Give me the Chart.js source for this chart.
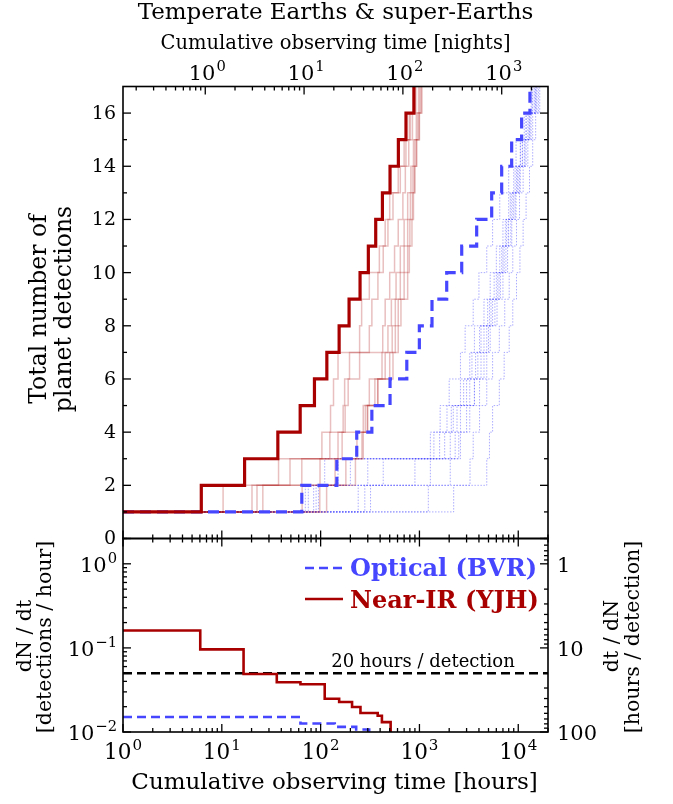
<!DOCTYPE html>
<html>
<head>
<meta charset="utf-8">
<script src="https://cdn.jsdelivr.net/npm/chart.js@4.4.0/dist/chart.umd.min.js"></script>
<style>
  html, body { margin: 0; padding: 0; background: #fff; }
  #wrap { position: relative; width: 673px; height: 804px; }
  #wrap canvas { position: absolute; left: 0; top: 0; }
</style>
</head>
<body>
<div id="wrap">
  <canvas id="counts" width="673" height="804"></canvas>
  <canvas id="rates" width="673" height="804"></canvas>
</div>
<script>
const hoursPerNight = 6.8;
const hoursMin = 1;
const hoursMax = 2e4;

// cumulative detections, one entry per step
const detections = [1, 2, 3, 4, 5, 6, 7, 8, 9, 10, 11, 12, 13, 14, 15, 16, 17];

// hours at which each detection count is reached (mean survey)
const nearIrHours = [1, 6.2, 17.0, 36.9, 62.1, 86.6, 115.6, 153.9, 194, 250.6, 304, 361, 422, 504, 612, 731, 880];
const opticalHours = [1, 64.5, 146, 232, 330, 504, 745, 998, 1340, 1888, 2678, 3795, 5384, 6796, 8575, 10820, 13130];

// individual simulated surveys
const nearIrTrials = [
  [1, 10.3, 37.5, 103, 126, 135, 150, 248, 260, 311, 393, 450, 500, 610, 700, 790, 860],
  [1, 20.2, 49, 124, 169, 175, 196, 311, 330, 380, 430, 480, 540, 640, 730, 810, 880],
  [1, 22.7, 64.5, 150, 177, 190, 248, 425, 450, 500, 560, 610, 680, 720, 780, 850, 920],
  [1, 26, 98.6, 165, 270, 311, 418, 480, 520, 580, 640, 700, 760, 820, 870, 930, 980],
  [1, 65, 140, 233, 283, 354, 450, 530, 570, 640, 700, 760, 810, 860, 900, 960, 1010],
  [1, 98, 180, 262, 296, 378, 500, 570, 610, 700, 760, 800, 850, 890, 930, 990, 1040],
  [1, 115, 225, 270, 300, 380, 540, 610, 650, 760, 790, 840, 870, 900, 940, 1000, 1060],
];
const opticalTrials = [
  [1, 75, 150, 1290, 1620, 2000, 2600, 2900, 3500, 4000, 4800, 5500, 6500, 8000, 9500, 11500, 13500],
  [1, 85, 300, 1600, 1900, 2600, 3230, 3600, 4500, 5200, 6000, 7000, 8000, 9000, 10500, 12000, 14000],
  [1, 95, 430, 2050, 2400, 3230, 3700, 4060, 5110, 6000, 6800, 7600, 8500, 9600, 11000, 12500, 14500],
  [1, 240, 1290, 2300, 2600, 3600, 4200, 4800, 5500, 6400, 7200, 8000, 9000, 10000, 11500, 13000, 15000],
  [1, 280, 2050, 2500, 3230, 4060, 4800, 5200, 6100, 7000, 7800, 8600, 9500, 10500, 12000, 13500, 15500],
  [1, 1230, 3250, 3500, 4060, 4800, 5500, 6430, 7300, 8100, 8800, 9600, 10300, 11200, 12500, 14000, 16000],
  [1, 2220, 4800, 5110, 5500, 6430, 7200, 8100, 8800, 9600, 10400, 11200, 12000, 13000, 14000, 15000, 16500],
  [1, 70, 110, 1400, 2100, 2800, 3400, 4200, 4900, 5700, 6500, 7400, 8300, 9300, 10500, 12000, 13800],
  [1, 90, 200, 1800, 2200, 3000, 3900, 4500, 5300, 6200, 7000, 7900, 8800, 9800, 11000, 12800, 14800],
  [1, 320, 900, 2600, 3000, 3600, 4500, 5000, 5800, 6600, 7500, 8400, 9300, 10300, 11700, 13200, 15200],
];

// detection rate, dN/dt [detections / hour]
const nearIrRateHours = [1, 6.05, 16.6, 36, 62.5, 110, 154, 208, 253, 378, 417, 511];
const nearIrRates = [0.161, 0.096, 0.049, 0.039, 0.037, 0.0249, 0.0227, 0.0198, 0.0168, 0.0156, 0.0131, 0.009];
const opticalRateHours = [1, 62.5, 139, 229, 310];
const opticalRates = [0.0151, 0.0126, 0.0115, 0.0107, 0.009];
const benchmarkHours = 20;

// axis labels
const countTicks = [0, 2, 4, 6, 8, 10, 12, 14, 16];
const hourDecades = [0, 1, 2, 3, 4];
const nightDecades = [0, 1, 2, 3];
const rateDecades = [-2, -1, 0];
const spacingTicks = [1, 10, 100];

const serif = '"DejaVu Serif", serif';
const RED = '#a80000';
const BLUE = '#4646ff';

const toPoints = (xs, ys) => xs.map((x, i) => ({ x: x, y: ys[i] }));

function logTicks(min, max) {
  const out = [];
  for (let e = Math.floor(Math.log10(min)); e <= Math.ceil(Math.log10(max)); e++) {
    for (let k = 1; k <= 9; k++) {
      const v = k * Math.pow(10, e);
      if (v >= min * 0.999 && v <= max * 1.001) out.push({ v: v, major: k === 1 });
    }
  }
  return out;
}

function tickX(ctx, px, y, dir, major) {
  const len = major ? 8 : 4;
  ctx.beginPath(); ctx.moveTo(px, y); ctx.lineTo(px, y + dir * len); ctx.stroke();
}
function tickY(ctx, py, x, dir, major) {
  const len = major ? 8 : 4;
  ctx.beginPath(); ctx.moveTo(x, py); ctx.lineTo(x + dir * len, py); ctx.stroke();
}

// "10" with a raised exponent
function powLabel(ctx, exp, x, y, size, align) {
  const sup = size * 0.7;
  ctx.font = size + 'px ' + serif;
  const wb = ctx.measureText('10').width;
  ctx.font = sup + 'px ' + serif;
  const we = ctx.measureText(exp).width;
  const total = wb + 1 + we;
  const x0 = align === 'center' ? x - total / 2 : align === 'right' ? x - total : x;
  ctx.textAlign = 'left';
  ctx.textBaseline = 'alphabetic';
  ctx.font = size + 'px ' + serif;
  ctx.fillText('10', x0, y);
  ctx.font = sup + 'px ' + serif;
  ctx.fillText(exp, x0 + wb + 1, y - size * 0.42);
}

function vText(ctx, text, x, y, font) {
  ctx.save();
  ctx.translate(x, y);
  ctx.rotate(-Math.PI / 2);
  ctx.font = font;
  ctx.textAlign = 'center';
  ctx.textBaseline = 'alphabetic';
  ctx.fillText(text, 0, 0);
  ctx.restore();
}

const expText = (e) => String(e).replace('-', '\u2212');

const countsAxes = {
  id: 'countsAxes',
  afterDraw(chart) {
    const { ctx, chartArea: a, scales: { x, y } } = chart;
    ctx.save();
    ctx.strokeStyle = '#000';
    ctx.fillStyle = '#000';
    ctx.lineWidth = 1.3;
    for (const t of logTicks(hoursMin, hoursMax)) tickX(ctx, x.getPixelForValue(t.v), a.bottom, -1, t.major);
    for (const t of logTicks(hoursMin / hoursPerNight, hoursMax / hoursPerNight)) {
      tickX(ctx, x.getPixelForValue(t.v * hoursPerNight), a.top, 1, t.major);
    }
    for (let n = 0; n < 17; n++) {
      const py = y.getPixelForValue(n);
      tickY(ctx, py, a.left, 1, n % 2 === 0);
      tickY(ctx, py, a.right, -1, n % 2 === 0);
    }
    ctx.lineWidth = 1.6;
    ctx.strokeRect(a.left, a.top, a.width, a.height);

    ctx.textAlign = 'right';
    ctx.textBaseline = 'middle';
    ctx.font = '19px ' + serif;
    for (const v of countTicks) ctx.fillText(String(v), a.left - 7, y.getPixelForValue(v) + 1);

    for (const e of nightDecades) {
      powLabel(ctx, expText(e), x.getPixelForValue(Math.pow(10, e) * hoursPerNight) + 2, 80, 21, 'center');
    }

    ctx.textAlign = 'center';
    ctx.textBaseline = 'alphabetic';
    ctx.font = '19.5px ' + serif;
    ctx.fillText('Cumulative observing time [nights]', (a.left + a.right) / 2, 49);
    ctx.font = '23px ' + serif;
    ctx.fillText('Temperate Earths & super-Earths', (a.left + a.right) / 2, 19);

    vText(ctx, 'Total number of', 46, 309, '23.5px ' + serif);
    vText(ctx, 'planet detections', 71, 309, '23.5px ' + serif);
    ctx.restore();
  }
};

const ratesAxes = {
  id: 'ratesAxes',
  afterDraw(chart) {
    const { ctx, chartArea: a, scales: { x, y } } = chart;
    ctx.save();
    ctx.strokeStyle = '#000';
    ctx.fillStyle = '#000';
    ctx.lineWidth = 1.3;
    for (const t of logTicks(hoursMin, hoursMax)) {
      const px = x.getPixelForValue(t.v);
      tickX(ctx, px, a.bottom, -1, t.major);
      tickX(ctx, px, a.top, 1, t.major);
    }
    for (const t of logTicks(y.min, y.max)) tickY(ctx, y.getPixelForValue(t.v), a.left, 1, t.major);
    // right axis shows hours per detection, the inverse of the rate
    for (const t of logTicks(1 / y.max, 1 / y.min)) tickY(ctx, y.getPixelForValue(1 / t.v), a.right, -1, t.major);
    ctx.lineWidth = 1.6;
    ctx.strokeRect(a.left, a.top, a.width, a.height);

    for (const e of hourDecades) powLabel(ctx, expText(e), x.getPixelForValue(Math.pow(10, e)), 759, 21.5, 'center');
    for (const e of rateDecades) powLabel(ctx, expText(e), a.left - 6, y.getPixelForValue(Math.pow(10, e)) + 8, 21, 'right');

    ctx.textAlign = 'left';
    ctx.textBaseline = 'alphabetic';
    ctx.font = '21px ' + serif;
    for (const v of spacingTicks) ctx.fillText(String(v), a.right + 9, y.getPixelForValue(1 / v) + 8);

    ctx.textAlign = 'center';
    ctx.font = '23px ' + serif;
    ctx.fillText('Cumulative observing time [hours]', (a.left + a.right) / 2 - 1, 789);

    vText(ctx, 'dN / dt', 31, 636, '20.5px ' + serif);
    vText(ctx, '[detections / hour]', 51, 637, '20.5px ' + serif);
    vText(ctx, 'dt / dN', 618, 636, '20.5px ' + serif);
    vText(ctx, '[hours / detection]', 639, 637, '20.5px ' + serif);

    // benchmark label
    ctx.font = '18px ' + serif;
    ctx.textAlign = 'center';
    ctx.fillText(benchmarkHours + ' hours / detection', 423, 667);

    // legend
    ctx.lineWidth = 2.6;
    ctx.strokeStyle = BLUE;
    ctx.setLineDash([9, 5]);
    ctx.beginPath(); ctx.moveTo(305, 568); ctx.lineTo(343, 568); ctx.stroke();
    ctx.setLineDash([]);
    ctx.strokeStyle = RED;
    ctx.beginPath(); ctx.moveTo(305, 599); ctx.lineTo(343, 599); ctx.stroke();
    ctx.textAlign = 'left';
    ctx.font = 'bold 24px ' + serif;
    ctx.fillStyle = BLUE;
    ctx.fillText('Optical (BVR)', 350, 576);
    ctx.fillStyle = RED;
    ctx.fillText('Near-IR (YJH)', 350, 608);
    ctx.restore();
  }
};

const countSets = [
  {
    data: toPoints(nearIrHours, detections),
    borderColor: RED, borderWidth: 3.2, stepped: true, order: 0
  },
  {
    data: toPoints(opticalHours, detections),
    borderColor: BLUE, borderWidth: 3.2, borderDash: [11, 6], stepped: true, order: 1
  }
];
nearIrTrials.forEach((hours) => countSets.push({
  data: toPoints(hours, detections),
  borderColor: 'rgba(168, 0, 0, 0.25)', borderWidth: 1.5, stepped: true, order: 2
}));
opticalTrials.forEach((hours) => countSets.push({
  data: toPoints(hours, detections),
  borderColor: 'rgba(70, 70, 255, 0.45)', borderWidth: 1, borderDash: [1.5, 1.5], stepped: true, order: 3
}));

new Chart(document.getElementById('counts'), {
  type: 'line',
  data: { datasets: countSets },
  options: {
    responsive: false,
    animation: false,
    layout: { padding: { left: 123, right: 125, top: 86.5, bottom: 265.5 } },
    elements: { point: { radius: 0 } },
    scales: {
      x: { type: 'logarithmic', min: hoursMin, max: hoursMax, display: false },
      y: { type: 'linear', min: 0, max: 17, display: false }
    },
    plugins: { legend: { display: false }, tooltip: { enabled: false } }
  },
  plugins: [countsAxes]
});

new Chart(document.getElementById('rates'), {
  type: 'line',
  data: {
    datasets: [
      {
        data: toPoints(nearIrRateHours, nearIrRates),
        borderColor: RED, borderWidth: 2.6, stepped: true, order: 0
      },
      {
        data: toPoints(opticalRateHours, opticalRates),
        borderColor: BLUE, borderWidth: 2.6, borderDash: [9, 5], stepped: true, order: 1
      },
      {
        data: [{ x: hoursMin, y: 1 / benchmarkHours }, { x: hoursMax, y: 1 / benchmarkHours }],
        borderColor: '#000', borderWidth: 2.6, borderDash: [9, 5], order: 2
      }
    ]
  },
  options: {
    responsive: false,
    animation: false,
    layout: { padding: { left: 123, right: 125, top: 538.5, bottom: 72 } },
    elements: { point: { radius: 0 } },
    scales: {
      x: { type: 'logarithmic', min: hoursMin, max: hoursMax, display: false },
      y: { type: 'logarithmic', min: 0.01, max: 2, display: false }
    },
    plugins: { legend: { display: false }, tooltip: { enabled: false } }
  },
  plugins: [ratesAxes]
});
</script>
</body>
</html>
